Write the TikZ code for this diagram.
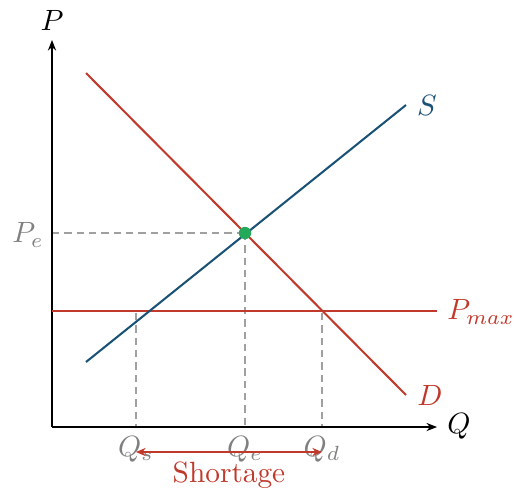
\documentclass[tikz,border=0pt]{standalone}
\usetikzlibrary{arrows.meta}
\definecolor{dred}{RGB}{192,57,43}
\definecolor{sblue}{RGB}{26,82,118}
\definecolor{egreen}{RGB}{34,170,90}
\definecolor{lgray}{RGB}{128,128,128}
\definecolor{dgray}{RGB}{160,160,160}
\begin{document}
\begin{tikzpicture}[x=0.341pt,y=-0.341pt,
  axis/.style={thin,-{Stealth[length=3.6pt,width=2.8pt]}},
  curve/.style={line width=0.7pt},
  guide/.style={dgray,thin,dash pattern=on 2.5pt off 1.7pt},
  lbl/.style={inner sep=0pt},
  glbl/.style={lbl,text=lgray}]
\useasboundingbox (0,0) rectangle (514,492);
\coordinate (O) at (52,427);
\coordinate (Ytop) at (52,40);
\coordinate (Xend) at (437,427);
\node[lbl] (Plab) at (52,20) {$P$};
\node[lbl] (Qlab) at (459,426) {$Q$};
% guides
\coordinate (E) at (245,233);
\coordinate (PeA) at (52,233);
\coordinate (QeA) at (245,427);
\coordinate (QsTop) at (136,313);
\coordinate (QsA) at (136,427);
\coordinate (QdTop) at (322,313);
\coordinate (QdA) at (322,427);
\draw[guide] (PeA) -- (E);
\draw[guide] (E) -- (QeA);
\draw[guide] (QsTop) -- (QsA);
\draw[guide] (QdTop) -- (QdA);
% axes
\draw[axis] (O) -- (Ytop);
\draw[axis] (O) -- (Xend);
% curves
\coordinate (D1) at (86,73);
\coordinate (D2) at (406,395);
\coordinate (S1) at (86,362);
\coordinate (S2) at (406,105);
\coordinate (PM1) at (52,311);
\coordinate (PM2) at (437,311);
\draw[curve,dred] (PM1) -- (PM2);
\draw[curve,dred] (D1) -- (D2);
\draw[curve,sblue] (S1) -- (S2);
\node[lbl,text=sblue] (Slab) at (427,105) {$S$};
\node[lbl,text=dred] (Dlab) at (430,395) {$D$};
\node[lbl,text=dred] (PMlab) at (481,312) {$P_{max}$};
\fill[egreen] (E) circle (2.1pt);
% labels
\node[glbl] (Pe) at (28,235) {$P_e$};
\node[glbl] (Qs) at (136,449) {$Q_s$};
\node[glbl] (Qe) at (245,449) {$Q_e$};
\node[glbl] (Qd) at (322,449) {$Q_d$};
\coordinate (Sh1) at (136,452);
\coordinate (Sh2) at (322,452);
\draw[dred,thin,{Stealth[length=3.3pt,width=2.8pt]}-{Stealth[length=3.3pt,width=2.8pt]}] (Sh1) -- (Sh2);
\node[lbl,text=dred] (Short) at (229,475) {Shortage};
\end{tikzpicture}
\end{document}
